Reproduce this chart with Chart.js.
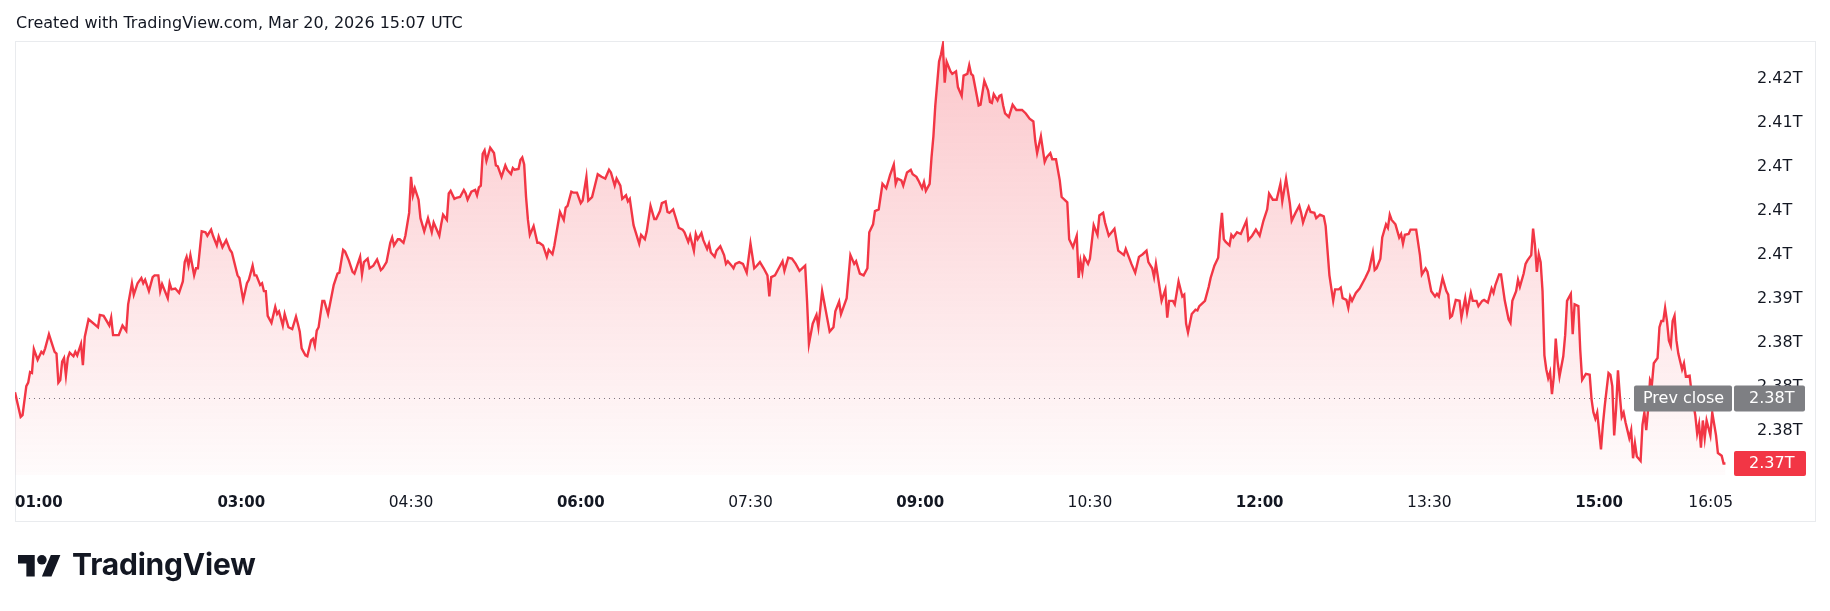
<!DOCTYPE html>
<html>
<head>
<meta charset="utf-8">
<script src="https://cdn.jsdelivr.net/npm/chart.js@4.4.1/dist/chart.umd.min.js"></script>
<style>
  html, body { margin: 0; padding: 0; background: #ffffff; }
  body { width: 1830px; height: 611px; position: relative; overflow: hidden; }
  #c { position: absolute; left: 0; top: 0; }
  #hdr { position: absolute; left: 16px; top: 15px; font-family: "DejaVu Sans", sans-serif; font-size: 16px; line-height: 16px; color: #131722; white-space: nowrap; }
  #logo { position: absolute; left: 18px; top: 550px; }
  #brand { position: absolute; left: 72px; top: 549px; font-family: Inter, "Noto Sans", sans-serif; font-weight: 700; font-size: 30px; line-height: 30px; color: #131722; letter-spacing: -0.2px; white-space: nowrap; }
</style>
</head>
<body>
<canvas id="c" width="1830" height="611"></canvas>
<div id="hdr">Created with TradingView.com, Mar 20, 2026 15:07 UTC</div>
<svg id="logo" width="43" height="34" viewBox="0 0 36 28"><path fill="#131722" d="M14 22H7V11H0V4h14v18zM28 22h-8l7.5-18h8L28 22z"/><circle fill="#131722" cx="20" cy="8" r="4"/></svg>
<div id="brand">TradingView</div>
<script>
// ---- data (minutes after 01:00, market cap in trillions) ----
const minutes = [
0,3,4,6,7,8,9,10,12,14,15,16,18,21,22,23,24,25,26,27,28,29,31,32,33,35,36,37,39,44,45,47,50,51,52,55,57,59,60,62,63,65,67,68,69,71,73,74,76,77,78,81,82,83,85,87,89,90,91,92,93,95,96,97,99,
101,102,104,105,107,108,110,112,114,115,118,119,121,123,124,126,127,128,130,131,132,133,134,136,138,139,140,142,143,145,147,149,150,151,152,154,155,157,158,159,160,161,163,164,166,169,171,172,174,175,177,179,180,183,184,185,187,188,190,192,194,195,197,199,
200,201,203,204,206,207,209,210,211,212,214,215,217,219,221,222,225,226,227,229,230,231,233,234,236,238,239,240,242,244,245,246,247,248,249,250,252,254,255,256,258,260,261,263,264,265,267,268,269,270,271,272,273,275,277,278,280,282,283,285,286,289,291,292,293,295,296,298,
300,301,303,304,306,309,311,313,315,316,318,319,321,322,324,325,326,328,329,331,332,334,335,337,339,340,342,343,345,346,347,349,350,352,354,355,357,358,360,361,362,364,365,367,368,369,371,372,374,376,377,378,380,381,382,384,386,388,390,392,393,395,397,399,
400,401,403,405,407,408,410,412,414,416,419,420,421,423,425,426,428,430,432,434,435,437,438,441,443,445,446,448,450,452,453,455,456,458,460,462,464,466,467,468,470,471,473,475,476,478,479,481,482,483,485,486,487,488,490,491,492,493,494,496,497,499,
500,502,503,505,506,507,508,511,512,514,516,517,518,519,521,522,523,524,525,527,529,531,534,536,538,540,541,542,544,546,547,549,550,552,554,555,558,559,561,563,564,565,566,567,569,570,572,574,575,577,578,580,583,585,588,589,592,594,596,598,
600,601,603,604,605,607,608,610,611,612,614,615,617,619,620,621,622,624,626,627,628,631,633,634,636,638,639,640,641,642,644,645,646,648,650,653,654,656,658,660,662,664,665,667,669,671,672,674,676,677,679,681,682,683,685,686,687,689,690,692,694,695,697,699,
700,702,703,704,706,707,708,709,711,713,716,718,720,721,722,724,725,727,728,729,730,732,734,735,736,737,739,740,743,745,746,748,749,751,753,754,755,757,759,760,761,762,764,766,767,769,770,772,773,775,776,778,779,781,783,784,785,787,788,790,792,793,794,796,797,798,
800,801,802,804,805,806,807,808,809,810,811,812,813,814,815,816,817,818,819,821,822,823,825,826,827,829,830,831,833,835,836,837,838,839,841,842,843,845,846,847,848,849,850,851,852,853,854,855,856,857,858,859,860,862,863,864,865,866,867,868,869,871,872,873,874,875,876,877,878,879,880,881,882,883,884,885,886,888,889,891,892,893,894,895,896,897,899,
900,902,903,905,906,907
];
const values = [
2.3844,2.3816,2.3818,2.3851,2.3855,2.3867,2.3866,2.3893,2.3881,2.3890,2.3888,2.3894,2.3910,2.3890,2.3888,2.3855,2.3858,2.3879,2.3883,2.3863,2.3883,2.3889,2.3885,2.3890,2.3886,2.3899,2.3875,2.3907,2.3927,2.3918,2.3932,2.3931,2.3920,2.3929,2.3909,2.3909,2.3920,2.3914,2.3944,2.3968,2.3955,2.3968,2.3974,2.3968,2.3972,2.3959,2.3975,2.3977,2.3977,2.3959,2.3967,2.3951,2.3968,2.3961,2.3962,2.3957,2.3970,2.3992,2.3998,2.3988,2.4000,2.3977,2.3985,2.3985,2.4027,
2.4026,2.4022,2.4029,2.4022,2.4011,2.4021,2.4009,2.4017,2.4006,2.4003,2.3977,2.3974,2.3949,2.3968,2.3972,2.3988,2.3977,2.3977,2.3966,2.3968,2.3959,2.3959,2.3931,2.3923,2.3941,2.3933,2.3936,2.3920,2.3933,2.3918,2.3916,2.3930,2.3922,2.3913,2.3894,2.3886,2.3885,2.3903,2.3905,2.3897,2.3914,2.3918,2.3948,2.3948,2.3933,2.3966,2.3979,2.3980,2.4006,2.4004,2.3994,2.3981,2.3979,2.3998,2.3978,2.3992,2.3996,2.3985,2.3988,2.3995,2.3983,2.3985,2.3992,2.4014,
2.4020,2.4011,2.4018,2.4018,2.4014,2.4022,2.4048,2.4089,2.4068,2.4076,2.4063,2.4042,2.4027,2.4042,2.4026,2.4037,2.4022,2.4035,2.4046,2.4040,2.4070,2.4073,2.4064,2.4065,2.4066,2.4074,2.4070,2.4063,2.4072,2.4074,2.4068,2.4077,2.4079,2.4115,2.4119,2.4107,2.4122,2.4116,2.4102,2.4101,2.4089,2.4102,2.4097,2.4092,2.4099,2.4097,2.4098,2.4108,2.4111,2.4103,2.4066,2.4040,2.4023,2.4033,2.4014,2.4014,2.4011,2.3998,2.4006,2.4001,2.4011,2.4049,2.4040,2.4054,2.4056,2.4072,2.4071,2.4071,
2.4059,2.4062,2.4089,2.4062,2.4066,2.4092,2.4089,2.4087,2.4097,2.4094,2.4079,2.4087,2.4079,2.4064,2.4068,2.4061,2.4064,2.4034,2.4027,2.4013,2.4023,2.4018,2.4027,2.4056,2.4041,2.4041,2.4050,2.4059,2.4061,2.4049,2.4048,2.4052,2.4045,2.4031,2.4029,2.4026,2.4015,2.4022,2.4005,2.4024,2.4018,2.4025,2.4017,2.4007,2.4013,2.4003,2.3998,2.4005,2.4010,2.4000,2.3990,2.3993,2.3988,2.3985,2.3990,2.3992,2.3990,2.3980,2.4013,2.3985,2.3987,2.3992,2.3985,2.3977,
2.3953,2.3975,2.3977,2.3985,2.3993,2.3982,2.3997,2.3996,2.3990,2.3982,2.3988,2.3948,2.3899,2.3922,2.3932,2.3918,2.3959,2.3936,2.3913,2.3918,2.3936,2.3947,2.3933,2.3951,2.4000,2.3990,2.3993,2.3979,2.3977,2.3985,2.4026,2.4035,2.4050,2.4052,2.4081,2.4076,2.4091,2.4103,2.4081,2.4087,2.4085,2.4079,2.4094,2.4097,2.4092,2.4089,2.4085,2.4076,2.4083,2.4073,2.4081,2.4111,2.4135,2.4170,2.4220,2.4228,2.4239,2.4196,2.4220,2.4209,2.4206,2.4209,
2.4191,2.4181,2.4204,2.4206,2.4216,2.4206,2.4204,2.4170,2.4171,2.4198,2.4187,2.4174,2.4173,2.4183,2.4176,2.4181,2.4182,2.4170,2.4161,2.4157,2.4171,2.4165,2.4165,2.4161,2.4155,2.4152,2.4130,2.4116,2.4135,2.4106,2.4111,2.4116,2.4109,2.4109,2.4085,2.4066,2.4060,2.4018,2.4009,2.4022,2.3974,2.3993,2.3981,2.3998,2.3990,2.3996,2.4034,2.4023,2.4045,2.4048,2.4037,2.4022,2.4030,2.4005,2.4000,2.4007,2.3990,2.3980,2.3998,2.4001,
2.4005,2.3992,2.3985,2.3975,2.3990,2.3962,2.3948,2.3961,2.3929,2.3948,2.3948,2.3944,2.3970,2.3953,2.3955,2.3922,2.3912,2.3933,2.3938,2.3937,2.3942,2.3948,2.3964,2.3974,2.3988,2.3997,2.4026,2.4048,2.4018,2.4015,2.4011,2.4023,2.4020,2.4026,2.4024,2.4039,2.4017,2.4022,2.4029,2.4022,2.4039,2.4052,2.4070,2.4063,2.4063,2.4081,2.4061,2.4087,2.4059,2.4039,2.4048,2.4056,2.4048,2.4037,2.4050,2.4055,2.4049,2.4048,2.4042,2.4046,2.4044,2.4033,2.3977,2.3948,
2.3961,2.3961,2.3963,2.3951,2.3949,2.3940,2.3953,2.3948,2.3957,2.3962,2.3974,2.3983,2.4003,2.3983,2.3985,2.3996,2.4020,2.4035,2.4031,2.4046,2.4040,2.4035,2.4020,2.4024,2.4013,2.4023,2.4024,2.4029,2.4029,2.4000,2.3978,2.3985,2.3981,2.3959,2.3953,2.3956,2.3953,2.3974,2.3959,2.3955,2.3929,2.3931,2.3949,2.3948,2.3929,2.3951,2.3935,2.3957,2.3948,2.3948,2.3942,2.3948,2.3949,2.3946,2.3962,2.3957,2.3966,2.3978,2.3978,2.3948,2.3927,2.3923,2.3948,2.3959,2.3972,2.3964,
2.3979,2.3990,2.3994,2.4000,2.4030,2.4011,2.3981,2.4001,2.3992,2.3959,2.3886,2.3870,2.3860,2.3867,2.3842,2.3862,2.3905,2.3879,2.3862,2.3885,2.3909,2.3948,2.3956,2.3910,2.3944,2.3942,2.3892,2.3858,2.3865,2.3864,2.3836,2.3821,2.3814,2.3821,2.3779,2.3807,2.3829,2.3866,2.3864,2.3851,2.3795,2.3825,2.3869,2.3840,2.3816,2.3821,2.3810,2.3801,2.3792,2.3801,2.3769,2.3786,2.3771,2.3766,2.3807,2.3821,2.3801,2.3825,2.3858,2.3853,2.3877,2.3883,2.3918,2.3925,2.3925,2.3940,2.3925,2.3903,2.3897,2.3925,2.3931,2.3903,2.3888,2.3879,2.3870,2.3877,2.3862,2.3863,2.3844,2.3818,2.3797,2.3808,2.3781,2.3812,2.3792,2.3812,2.3795,
2.3821,2.3795,2.3775,2.3772,2.3763,2.3763
];
const prevClose = 2.3837;
const prevCloseLabel = "2.38T";
const lastPriceLabel = "2.37T";
const yTickValues = [2.380, 2.385, 2.390, 2.395, 2.400, 2.405, 2.410, 2.415, 2.420];
const yTickLabels = ["2.38T", "2.38T", "2.38T", "2.39T", "2.4T", "2.4T", "2.4T", "2.41T", "2.42T"];
const xTickMinutes = [0, 120, 210, 300, 390, 480, 570, 660, 750, 840, 905];
const xTickLabels = ["01:00", "03:00", "04:30", "06:00", "07:30", "09:00", "10:30", "12:00", "13:30", "15:00", "16:05"];
const xTickMajor = [true, true, false, true, false, true, false, true, false, true, false];

const RED = '#F23645';
const TEXT = '#131722';
const FONT = '"DejaVu Sans", sans-serif';

const points = minutes.map((m, i) => ({ x: m, y: values[i] }));

function rr(ctx, x, y, w, h, r) {
  ctx.beginPath();
  if (ctx.roundRect) ctx.roundRect(x, y, w, h, r); else ctx.rect(x, y, w, h);
}

const framePlugin = {
  id: 'frame',
  beforeDraw(chart) {
    const ctx = chart.ctx;
    ctx.save();
    ctx.strokeStyle = '#E9EBEE';
    ctx.lineWidth = 1;
    ctx.strokeRect(15.5, 41.5, 1800, 480);
    ctx.restore();
    // keep the last time label inside the plot width (as the time axis does)
    const xs = chart.scales.x;
    try {
      const items = xs.getLabelItems(chart.chartArea);
      const last = items && items[items.length - 1];
      if (last && last.options && last.options.translation) {
        last.options.translation[0] = chart.chartArea.right;
      }
    } catch (e) {}
  },
  beforeDatasetsDraw(chart) {
    const ctx = chart.ctx, a = chart.chartArea, y = chart.scales.y;
    const py = Math.round(y.getPixelForValue(prevClose)) + 0.5;
    ctx.save();
    ctx.strokeStyle = '#787B86';
    ctx.lineWidth = 1;
    ctx.setLineDash([1, 4]);
    ctx.beginPath();
    ctx.moveTo(a.left + 4, py);
    ctx.lineTo(a.right, py);
    ctx.stroke();
    ctx.restore();
  },
  afterDraw(chart) {
    const ctx = chart.ctx, a = chart.chartArea, y = chart.scales.y;
    ctx.save();
    ctx.font = '16px ' + FONT;
    ctx.textBaseline = 'middle';
    ctx.textAlign = 'left';
    const pc = y.getPixelForValue(prevClose);
    const gh = 26;
    ctx.fillStyle = '#7E7F83';
    rr(ctx, a.right - 99, pc - gh / 2, 98, gh, 2); ctx.fill();
    rr(ctx, a.right + 1, pc - gh / 2, 71, gh, 2); ctx.fill();
    ctx.fillStyle = '#ffffff';
    ctx.fillText('Prev close', a.right - 90, pc + 0.5);
    ctx.fillText(prevCloseLabel, a.right + 16, pc + 0.5);
    const lv = values[values.length - 1];
    const rh = 25;
    let lc = y.getPixelForValue(lv);
    lc = Math.min(lc, a.bottom + 3 - rh / 2);
    ctx.fillStyle = RED;
    rr(ctx, a.right + 1, lc - rh / 2, 72, rh, 2); ctx.fill();
    ctx.fillStyle = '#ffffff';
    ctx.fillText(lastPriceLabel, a.right + 16, lc + 0.5);
    ctx.restore();
  }
};

new Chart(document.getElementById('c'), {
  type: 'line',
  data: {
    datasets: [{
      data: points,
      borderColor: RED,
      borderWidth: 2.4,
      pointRadius: 0,
      tension: 0,
      fill: 'start',
      backgroundColor: (c) => {
        const a = c.chart.chartArea;
        if (!a) return 'rgba(242,54,69,0.12)';
        const g = c.chart.ctx.createLinearGradient(0, a.top, 0, a.bottom);
        g.addColorStop(0, 'rgba(242,54,69,0.28)');
        g.addColorStop(1, 'rgba(242,54,69,0.02)');
        return g;
      }
    }]
  },
  options: {
    responsive: false,
    animation: false,
    devicePixelRatio: 1,
    layout: { padding: { top: 41, left: 15, right: 15, bottom: 90 } },
    plugins: { legend: { display: false }, tooltip: { enabled: false } },
    scales: {
      x: {
        type: 'linear',
        min: 0,
        max: 911,
        grid: { display: false },
        border: { display: false },
        afterBuildTicks: (s) => { s.ticks = xTickMinutes.map(v => ({ value: v })); },
        afterFit: (s) => { s.height = 46; },
        ticks: {
          autoSkip: false,
          maxRotation: 0,
          align: 'inner',
          padding: 11,
          color: TEXT,
          font: (c) => ({ family: FONT, size: xTickMajor[c.index] ? 15 : 15.5, weight: xTickMajor[c.index] ? 'bold' : 'normal' }),
          callback: (v, i) => xTickLabels[i]
        }
      },
      y: {
        type: 'linear',
        position: 'right',
        min: 2.3750,
        max: 2.42434,
        grid: { display: false },
        border: { display: false },
        afterBuildTicks: (s) => { s.ticks = yTickValues.map(v => ({ value: v })); },
        afterFit: (s) => { s.width = 82; },
        ticks: {
          padding: 16,
          color: TEXT,
          font: { family: FONT, size: 16 },
          callback: (v, i) => yTickLabels[i]
        }
      }
    }
  },
  plugins: [framePlugin]
});
</script>
</body>
</html>
